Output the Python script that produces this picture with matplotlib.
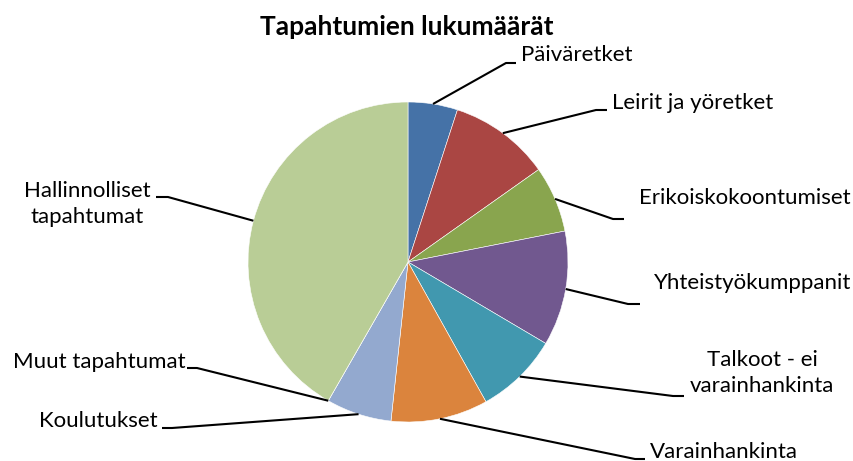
import numpy as np
import matplotlib
matplotlib.use("Agg")
import matplotlib.pyplot as plt

categories = ["Päiväretket", "Leirit ja yöretket", "Erikoiskokoontumiset",
              "Yhteistyökumppanit", "Talkoot - ei\nvarainhankinta", "Varainhankinta",
              "Koulutukset", "Muut tapahtumat", "Hallinnolliset\ntapahtumat"]
values = [5.0, 10.2, 6.7, 11.6, 8.4, 9.8, 6.6, 0.0, 41.7]
colors = ["#4572A7", "#AA4643", "#89A54E", "#71588F", "#4198AF", "#DB843D",
          "#93A9CF", "#D19392", "#B9CD96"]

W, H = 854, 461
CX, CY, R = 408, 262, 160

fig = plt.figure(figsize=(W / 100, H / 100), dpi=100)
ax = fig.add_axes([0, 0, 1, 1])

def px(x, y):
    return ((x - CX) / R, (CY - y) / R)

wedges, _ = ax.pie(values, colors=colors, startangle=90, counterclock=False,
                   radius=1.0, center=(0, 0), frame=True,
                   wedgeprops=dict(linewidth=0.4, edgecolor="white"))
ax.set_xlim(-CX / R, (W - CX) / R)
ax.set_ylim((CY - H) / R, CY / R)
ax.set_aspect("auto")
ax.axis("off")

# label layout: (elbow px, end px, text px, ha, multialign)
layout = [
    ((506, 63), (516, 63), (521, 55), "left", "left"),
    ((596, 110), (607, 110), (612, 103), "left", "left"),
    ((613, 219), (624, 219), (639, 198), "left", "left"),
    ((628, 304), (640, 304), (654, 283), "left", "left"),
    ((673, 396), (684, 396), (762, 373), "center", "center"),
    ((635, 459), (645, 459), (650, 452), "left", "left"),
    ((172, 428), (162, 428), (158, 421), "right", "right"),
    ((197, 368), (187, 368), (186, 362), "right", "right"),
    ((168, 197), (156, 197), (87, 204), "center", "center"),
]

fontfam = ["Lato", "DejaVu Sans"]
for w, lab, (elb, end, tp, ha, ma) in zip(wedges, categories, layout):
    mid = np.deg2rad((w.theta1 + w.theta2) / 2)
    ax_, ay_ = np.cos(mid), np.sin(mid)
    ex, ey = px(*elb)
    nx, ny = px(*end)
    ax.plot([ax_, ex, nx], [ay_, ey, ny], color="black", lw=1.5,
            solid_capstyle="butt", zorder=3)
    tx, ty = px(*tp)
    ax.text(tx, ty, lab, ha=ha, va="center", multialignment=ma,
            fontsize=16, family=fontfam, linespacing=1.32)

ax.text(*px(407, 27), "Tapahtumien lukumäärät", ha="center", va="center",
        fontsize=19, fontweight="bold", family=fontfam)

fig.savefig("out.png", dpi=100)
